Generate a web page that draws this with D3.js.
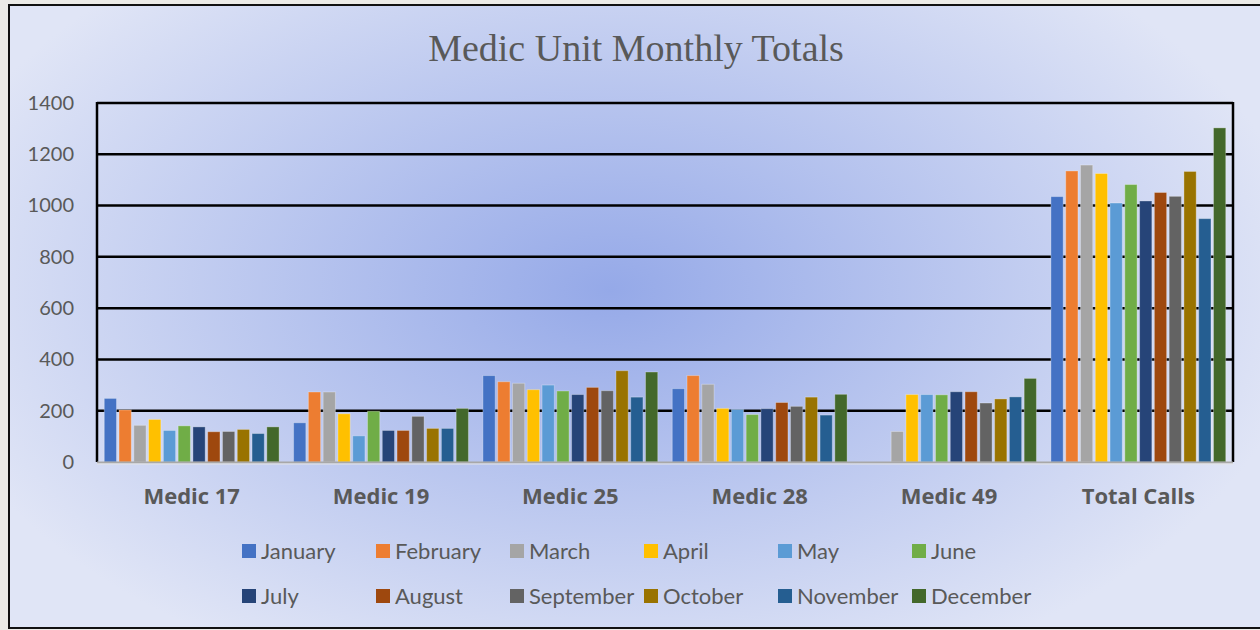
<!DOCTYPE html>
<html>
<head>
<script type="text/javascript" src="https://cdn.jsdelivr.net/npm/d3@7/dist/d3.min.js"></script>
<style>
  body { margin: 0; background: #ecebe7; }
</style>
</head>
<body>
<script>

var width = 1260,
    height = 630;

var units  = ["Medic 17", "Medic 19", "Medic 25", "Medic 28", "Medic 49", "Total Calls"];
var months = ["January", "February", "March", "April", "May", "June",
              "July", "August", "September", "October", "November", "December"];
var yTicks = [0, 200, 400, 600, 800, 1000, 1200, 1400];

// calls per unit, one value per month
var medic17    = [248, 203, 143, 166, 123, 141, 137, 118, 119, 127, 111, 137];
var medic19    = [153, 273, 273, 188, 102, 198, 123, 123, 178, 131, 131, 209];
var medic25    = [337, 313, 307, 282, 300, 277, 263, 291, 278, 356, 253, 351];
var medic28    = [286, 337, 303, 209, 205, 185, 208, 232, 217, 253, 183, 264];
var medic49    = [0, 0, 119, 263, 263, 262, 274, 274, 230, 246, 254, 326];
var totalCalls = [1035, 1135, 1158, 1125, 1010, 1082, 1018, 1051, 1036, 1133, 949, 1303];

var monthColors = ["#4472C4", "#ED7D31", "#A5A5A5", "#FFC000", "#5B9BD5", "#70AD47",
                   "#264478", "#9E480E", "#636363", "#997300", "#255E91", "#43682B"];

var table = [medic17, medic19, medic25, medic28, medic49, totalCalls].map(function (vals, i) {
  return { unit: units[i], values: vals.map(function (v, j) { return { month: months[j], v: v }; }) };
});

var plot = { left: 97, top: 103, right: 1233, bottom: 462 };

var svg = d3.select("body")
            .append("svg")
            .attr("width", width)
            .attr("height", height);

var defs = svg.append("defs");
var grad = defs.append("radialGradient")
               .attr("id", "bg")
               .attr("gradientUnits", "userSpaceOnUse")
               .attr("cx", 610).attr("cy", 290).attr("r", 700)
               .attr("gradientTransform", "translate(610,290) scale(1,0.6) translate(-610,-290)");
grad.append("stop").attr("offset", "0%").attr("stop-color", "#95a9e8");
grad.append("stop").attr("offset", "100%").attr("stop-color", "#e0e5f6");

svg.append("rect")
   .attr("x", 9).attr("y", 5)
   .attr("width", width + 10).attr("height", height - 7)
   .style("fill", "url(#bg)")
   .style("stroke", "#111")
   .style("stroke-width", 2);

svg.append("text")
   .attr("x", 636).attr("y", 61)
   .attr("text-anchor", "middle")
   .style("font-family", "'Liberation Serif', serif")
   .style("font-size", "38px")
   .style("fill", "#595959")
   .text("Medic Unit Monthly Totals");

var y = d3.scaleLinear().domain([0, 1400]).range([plot.bottom, plot.top]);

var x0 = d3.scaleBand()
           .domain(units)
           .range([plot.left, plot.right])
           .paddingInner(0.05)
           .paddingOuter(0.025);

var x1 = d3.scaleBand()
           .domain(months)
           .range([0, x0.bandwidth()])
           .padding(0.17);

var color = d3.scaleOrdinal().domain(months).range(monthColors);

// gridlines
svg.append("g")
   .selectAll("line")
   .data(yTicks.slice(1))
   .enter()
   .append("line")
   .attr("x1", plot.left).attr("x2", plot.right)
   .attr("y1", function (d) { return y(d); })
   .attr("y2", function (d) { return y(d); })
   .style("stroke", "#000")
   .style("stroke-width", 2.5);

// plot frame sides
svg.append("line")
   .attr("x1", plot.left).attr("x2", plot.left)
   .attr("y1", plot.top - 1).attr("y2", plot.bottom)
   .style("stroke", "#000").style("stroke-width", 2.5);
svg.append("line")
   .attr("x1", plot.right).attr("x2", plot.right)
   .attr("y1", plot.top - 1).attr("y2", plot.bottom)
   .style("stroke", "#000").style("stroke-width", 2.5);

var yAxis = d3.axisLeft(y).tickValues(yTicks).tickFormat(d3.format("d")).tickSize(0).tickPadding(0);
var yg = svg.append("g")
            .attr("transform", "translate(74,0)")
            .call(yAxis);
yg.select(".domain").remove();
yg.selectAll("text")
  .style("font-family", "Lato, 'Open Sans', sans-serif")
  .style("font-size", "20px")
  .style("fill", "#595959");

// bars
var groups = svg.append("g")
                .selectAll("g")
                .data(table)
                .enter()
                .append("g")
                .attr("transform", function (d) { return "translate(" + x0(d.unit) + ",0)"; });

groups.selectAll("rect")
      .data(function (d) { return d.values; })
      .enter()
      .append("rect")
      .attr("x", function (d) { return x1(d.month); })
      .attr("y", function (d) { return y(d.v); })
      .attr("width", x1.bandwidth())
      .attr("height", function (d) { return y(0) - y(d.v); })
      .style("fill", function (d) { return color(d.month); })
      .style("stroke", "rgba(255,255,255,0.3)")
      .style("stroke-width", 1);

// baseline
svg.append("line")
   .attr("x1", plot.left).attr("x2", plot.right)
   .attr("y1", plot.bottom + 0.5).attr("y2", plot.bottom + 0.5)
   .style("stroke", "#a8a8a8").style("stroke-width", 2);
svg.append("line")
   .attr("x1", plot.left).attr("x2", plot.right)
   .attr("y1", plot.bottom + 2).attr("y2", plot.bottom + 2)
   .style("stroke", "#e6e6e6").style("stroke-width", 1);

// category labels
var xAxis = d3.axisBottom(x0).tickSize(0).tickPadding(0);
var xg = svg.append("g")
            .attr("transform", "translate(0,504)")
            .call(xAxis);
xg.select(".domain").remove();
xg.selectAll("text")
  .attr("dy", 0)
  .style("font-family", "'Open Sans', sans-serif")
  .style("font-weight", "bold")
  .style("font-size", "22px")
  .style("fill", "#595959");

// legend
var legend = svg.append("g")
                .selectAll("g")
                .data(months)
                .enter()
                .append("g")
                .attr("transform", function (d, i) {
                  return "translate(" + (242 + (i % 6) * 134) + "," + (i < 6 ? 551 : 596) + ")"; });

legend.append("rect")
      .attr("x", 0).attr("y", -7)
      .attr("width", 14).attr("height", 14)
      .style("fill", function (d) { return color(d); });

legend.append("text")
      .attr("x", 19).attr("y", 7.5)
      .style("font-family", "Lato, 'Open Sans', sans-serif")
      .style("font-size", "22px")
      .style("fill", "#595959")
      .text(function (d) { return d; });

</script>
</body>
</html>
